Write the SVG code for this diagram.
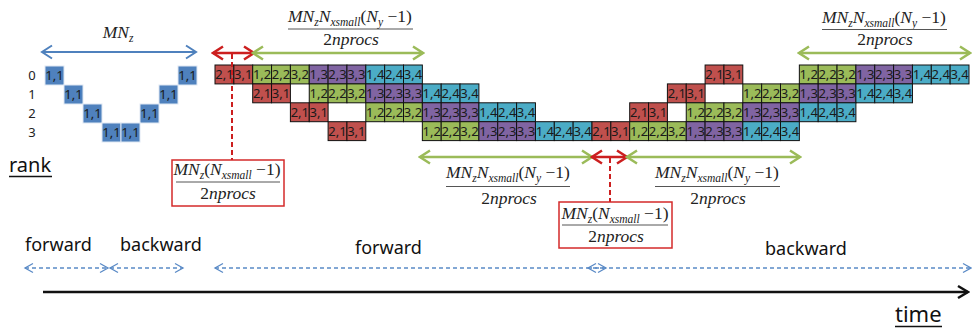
<svg xmlns="http://www.w3.org/2000/svg" width="972" height="330" viewBox="0 0 972 330">
<style>
.R{fill:#c0504d;stroke:#111;stroke-width:1}
.G{fill:#9bbb59;stroke:#111;stroke-width:1}
.P{fill:#8064a2;stroke:#111;stroke-width:1}
.T{fill:#4bacc6;stroke:#111;stroke-width:1}
.B{fill:#4f81bd;stroke:#dfe8f3;stroke-width:1}
.c{font-family:"Noto Sans","Liberation Sans",sans-serif;font-size:13px;text-anchor:middle;fill:#1a1a1a}
.rk{font-family:"Noto Sans","Liberation Sans",sans-serif;font-size:13px;text-anchor:middle;fill:#222}
.m{font-family:"Liberation Serif",serif;font-style:italic;font-size:17.5px;fill:#222;text-anchor:middle}
.s{font-size:11.5px}
.u{font-style:normal}
.bar{stroke:#555;stroke-width:1}
.lbl{font-family:"Noto Sans","Liberation Sans",sans-serif;font-size:18px;fill:#111}
.box{fill:#fff;stroke:#d42a2a;stroke-width:1.5}
.ga{stroke:#9bbb59;stroke-width:2.5;fill:none;marker-start:url(#mg);marker-end:url(#mg)}
.ra{stroke:#cc1f1f;stroke-width:2.5;fill:none;marker-start:url(#mr);marker-end:url(#mr)}
.rd{stroke:#cc1f1f;stroke-width:2;stroke-dasharray:5 3;fill:none}
.da{stroke:#5a8ac6;stroke-width:1.3;stroke-dasharray:4 3;fill:none;marker-start:url(#md);marker-end:url(#md)}
</style>
<defs>
<marker id="mg" markerUnits="userSpaceOnUse" viewBox="0 0 14 16" markerWidth="14" markerHeight="16" refX="12" refY="8" orient="auto-start-reverse"><path d="M2,1.5 L12,8 L2,14.5" fill="none" stroke="#9bbb59" stroke-width="2.5"/></marker>
<marker id="mr" markerUnits="userSpaceOnUse" viewBox="0 0 14 16" markerWidth="14" markerHeight="16" refX="12" refY="8" orient="auto-start-reverse"><path d="M2,1.5 L12,8 L2,14.5" fill="none" stroke="#cc1f1f" stroke-width="2.5"/></marker>
<marker id="mb" markerUnits="userSpaceOnUse" viewBox="0 0 14 16" markerWidth="14" markerHeight="16" refX="12" refY="8" orient="auto-start-reverse"><path d="M2,1.5 L12,8 L2,14.5" fill="none" stroke="#4f81bd" stroke-width="2"/></marker>
<marker id="md" markerUnits="userSpaceOnUse" viewBox="0 0 12 12" markerWidth="12" markerHeight="12" refX="10" refY="6" orient="auto-start-reverse"><path d="M2,1.5 L10,6 L2,10.5" fill="none" stroke="#5a8ac6" stroke-width="1.3"/></marker>
<marker id="mk" markerUnits="userSpaceOnUse" viewBox="0 0 14 16" markerWidth="14" markerHeight="16" refX="12" refY="8" orient="auto"><path d="M2,2 L12,8 L2,14" fill="none" stroke="#111" stroke-width="2.5"/></marker>
</defs>
<rect width="972" height="330" fill="#fff"/>

<!-- left: sequential pattern -->
<g id="mnz-label"><text class="m" x="118" y="38">MN<tspan class="s" dy="4">z</tspan></text></g>
<g id="rank-numbers">
<text class="rk" x="32" y="80">0</text><text class="rk" x="32" y="99">1</text><text class="rk" x="32" y="118">2</text><text class="rk" x="32" y="137">3</text>
</g>
<g id="seq-cells">
<g id="s0a"><rect class="B" x="45" y="66" width="19" height="19"/><text class="c" x="54.5" y="80">1,1</text></g>
<g id="s0b"><rect class="B" x="178" y="66" width="19" height="19"/><text class="c" x="187.5" y="80">1,1</text></g>
<g id="s1a"><rect class="B" x="64" y="85" width="19" height="19"/><text class="c" x="73.5" y="99">1,1</text></g>
<g id="s1b"><rect class="B" x="159" y="85" width="19" height="19"/><text class="c" x="168.5" y="99">1,1</text></g>
<g id="s2a"><rect class="B" x="83" y="104" width="19" height="19"/><text class="c" x="92.5" y="118">1,1</text></g>
<g id="s2b"><rect class="B" x="140" y="104" width="19" height="19"/><text class="c" x="149.5" y="118">1,1</text></g>
<g id="s3a"><rect class="B" x="102" y="123" width="19" height="19"/><text class="c" x="111.5" y="137">1,1</text></g>
<g id="s3b"><rect class="B" x="121" y="123" width="19" height="19"/><text class="c" x="130.5" y="137">1,1</text></g>
</g>
<g id="rank-label"><text class="lbl" x="9" y="172" style="font-size:20px">rank</text><line x1="9" y1="176.5" x2="52" y2="176.5" stroke="#111" stroke-width="1.3"/></g>

<!-- row 0 -->
<g id="row0">
<g><rect class="R" x="215" y="65" width="18.85" height="18.9"/><text class="c" x="224.43" y="79">2,1</text></g>
<g><rect class="R" x="233.85" y="65" width="18.85" height="18.9"/><text class="c" x="243.28" y="79">3,1</text></g>
<g><rect class="G" x="252.7" y="65" width="18.85" height="18.9"/><text class="c" x="262.13" y="79">1,2</text></g>
<g><rect class="G" x="271.55" y="65" width="18.85" height="18.9"/><text class="c" x="280.98" y="79">2,2</text></g>
<g><rect class="G" x="290.4" y="65" width="18.85" height="18.9"/><text class="c" x="299.83" y="79">3,2</text></g>
<g><rect class="P" x="309.25" y="65" width="18.85" height="18.9"/><text class="c" x="318.68" y="79">1,3</text></g>
<g><rect class="P" x="328.1" y="65" width="18.85" height="18.9"/><text class="c" x="337.53" y="79">2,3</text></g>
<g><rect class="P" x="346.95" y="65" width="18.85" height="18.9"/><text class="c" x="356.38" y="79">3,3</text></g>
<g><rect class="T" x="365.8" y="65" width="18.85" height="18.9"/><text class="c" x="375.23" y="79">1,4</text></g>
<g><rect class="T" x="384.65" y="65" width="18.85" height="18.9"/><text class="c" x="394.08" y="79">2,4</text></g>
<g><rect class="T" x="403.5" y="65" width="18.85" height="18.9"/><text class="c" x="412.93" y="79">3,4</text></g>
<g><rect class="R" x="705.1" y="65" width="18.85" height="18.9"/><text class="c" x="714.53" y="79">2,1</text></g>
<g><rect class="R" x="723.95" y="65" width="18.85" height="18.9"/><text class="c" x="733.38" y="79">3,1</text></g>
<g><rect class="G" x="799.35" y="65" width="18.85" height="18.9"/><text class="c" x="808.78" y="79">1,2</text></g>
<g><rect class="G" x="818.2" y="65" width="18.85" height="18.9"/><text class="c" x="827.63" y="79">2,2</text></g>
<g><rect class="G" x="837.05" y="65" width="18.85" height="18.9"/><text class="c" x="846.48" y="79">3,2</text></g>
<g><rect class="P" x="855.9" y="65" width="18.85" height="18.9"/><text class="c" x="865.33" y="79">1,3</text></g>
<g><rect class="P" x="874.75" y="65" width="18.85" height="18.9"/><text class="c" x="884.18" y="79">2,3</text></g>
<g><rect class="P" x="893.6" y="65" width="18.85" height="18.9"/><text class="c" x="903.03" y="79">3,3</text></g>
<g><rect class="T" x="912.45" y="65" width="18.85" height="18.9"/><text class="c" x="921.88" y="79">1,4</text></g>
<g><rect class="T" x="931.3" y="65" width="18.85" height="18.9"/><text class="c" x="940.73" y="79">2,4</text></g>
<g><rect class="T" x="950.15" y="65" width="18.85" height="18.9"/><text class="c" x="959.58" y="79">3,4</text></g>
</g>

<!-- row 1 -->
<g id="row1">
<g><rect class="R" x="252.7" y="83.9" width="18.85" height="18.9"/><text class="c" x="262.13" y="97.9">2,1</text></g>
<g><rect class="R" x="271.55" y="83.9" width="18.85" height="18.9"/><text class="c" x="280.98" y="97.9">3,1</text></g>
<g><rect class="G" x="309.25" y="83.9" width="18.85" height="18.9"/><text class="c" x="318.68" y="97.9">1,2</text></g>
<g><rect class="G" x="328.1" y="83.9" width="18.85" height="18.9"/><text class="c" x="337.53" y="97.9">2,2</text></g>
<g><rect class="G" x="346.95" y="83.9" width="18.85" height="18.9"/><text class="c" x="356.38" y="97.9">3,2</text></g>
<g><rect class="P" x="365.8" y="83.9" width="18.85" height="18.9"/><text class="c" x="375.23" y="97.9">1,3</text></g>
<g><rect class="P" x="384.65" y="83.9" width="18.85" height="18.9"/><text class="c" x="394.08" y="97.9">2,3</text></g>
<g><rect class="P" x="403.5" y="83.9" width="18.85" height="18.9"/><text class="c" x="412.93" y="97.9">3,3</text></g>
<g><rect class="T" x="422.35" y="83.9" width="18.85" height="18.9"/><text class="c" x="431.78" y="97.9">1,4</text></g>
<g><rect class="T" x="441.2" y="83.9" width="18.85" height="18.9"/><text class="c" x="450.63" y="97.9">2,4</text></g>
<g><rect class="T" x="460.05" y="83.9" width="18.85" height="18.9"/><text class="c" x="469.48" y="97.9">3,4</text></g>
<g><rect class="R" x="667.4" y="83.9" width="18.85" height="18.9"/><text class="c" x="676.83" y="97.9">2,1</text></g>
<g><rect class="R" x="686.25" y="83.9" width="18.85" height="18.9"/><text class="c" x="695.68" y="97.9">3,1</text></g>
<g><rect class="G" x="742.8" y="83.9" width="18.85" height="18.9"/><text class="c" x="752.23" y="97.9">1,2</text></g>
<g><rect class="G" x="761.65" y="83.9" width="18.85" height="18.9"/><text class="c" x="771.08" y="97.9">2,2</text></g>
<g><rect class="G" x="780.5" y="83.9" width="18.85" height="18.9"/><text class="c" x="789.93" y="97.9">3,2</text></g>
<g><rect class="P" x="799.35" y="83.9" width="18.85" height="18.9"/><text class="c" x="808.78" y="97.9">1,3</text></g>
<g><rect class="P" x="818.2" y="83.9" width="18.85" height="18.9"/><text class="c" x="827.63" y="97.9">2,3</text></g>
<g><rect class="P" x="837.05" y="83.9" width="18.85" height="18.9"/><text class="c" x="846.48" y="97.9">3,3</text></g>
<g><rect class="T" x="855.9" y="83.9" width="18.85" height="18.9"/><text class="c" x="865.33" y="97.9">1,4</text></g>
<g><rect class="T" x="874.75" y="83.9" width="18.85" height="18.9"/><text class="c" x="884.18" y="97.9">2,4</text></g>
<g><rect class="T" x="893.6" y="83.9" width="18.85" height="18.9"/><text class="c" x="903.03" y="97.9">3,4</text></g>
</g>

<!-- row 2 -->
<g id="row2">
<g><rect class="R" x="290.4" y="102.8" width="18.85" height="18.9"/><text class="c" x="299.83" y="116.8">2,1</text></g>
<g><rect class="R" x="309.25" y="102.8" width="18.85" height="18.9"/><text class="c" x="318.68" y="116.8">3,1</text></g>
<g><rect class="G" x="365.8" y="102.8" width="18.85" height="18.9"/><text class="c" x="375.23" y="116.8">1,2</text></g>
<g><rect class="G" x="384.65" y="102.8" width="18.85" height="18.9"/><text class="c" x="394.08" y="116.8">2,2</text></g>
<g><rect class="G" x="403.5" y="102.8" width="18.85" height="18.9"/><text class="c" x="412.93" y="116.8">3,2</text></g>
<g><rect class="P" x="422.35" y="102.8" width="18.85" height="18.9"/><text class="c" x="431.78" y="116.8">1,3</text></g>
<g><rect class="P" x="441.2" y="102.8" width="18.85" height="18.9"/><text class="c" x="450.63" y="116.8">2,3</text></g>
<g><rect class="P" x="460.05" y="102.8" width="18.85" height="18.9"/><text class="c" x="469.48" y="116.8">3,3</text></g>
<g><rect class="T" x="478.9" y="102.8" width="18.85" height="18.9"/><text class="c" x="488.33" y="116.8">1,4</text></g>
<g><rect class="T" x="497.75" y="102.8" width="18.85" height="18.9"/><text class="c" x="507.18" y="116.8">2,4</text></g>
<g><rect class="T" x="516.6" y="102.8" width="18.85" height="18.9"/><text class="c" x="526.03" y="116.8">3,4</text></g>
<g><rect class="R" x="629.7" y="102.8" width="18.85" height="18.9"/><text class="c" x="639.13" y="116.8">2,1</text></g>
<g><rect class="R" x="648.55" y="102.8" width="18.85" height="18.9"/><text class="c" x="657.98" y="116.8">3,1</text></g>
<g><rect class="G" x="686.25" y="102.8" width="18.85" height="18.9"/><text class="c" x="695.68" y="116.8">1,2</text></g>
<g><rect class="G" x="705.1" y="102.8" width="18.85" height="18.9"/><text class="c" x="714.53" y="116.8">2,2</text></g>
<g><rect class="G" x="723.95" y="102.8" width="18.85" height="18.9"/><text class="c" x="733.38" y="116.8">3,2</text></g>
<g><rect class="P" x="742.8" y="102.8" width="18.85" height="18.9"/><text class="c" x="752.23" y="116.8">1,3</text></g>
<g><rect class="P" x="761.65" y="102.8" width="18.85" height="18.9"/><text class="c" x="771.08" y="116.8">2,3</text></g>
<g><rect class="P" x="780.5" y="102.8" width="18.85" height="18.9"/><text class="c" x="789.93" y="116.8">3,3</text></g>
<g><rect class="T" x="799.35" y="102.8" width="18.85" height="18.9"/><text class="c" x="808.78" y="116.8">1,4</text></g>
<g><rect class="T" x="818.2" y="102.8" width="18.85" height="18.9"/><text class="c" x="827.63" y="116.8">2,4</text></g>
<g><rect class="T" x="837.05" y="102.8" width="18.85" height="18.9"/><text class="c" x="846.48" y="116.8">3,4</text></g>
</g>

<!-- row 3 -->
<g id="row3">
<g><rect class="R" x="328.1" y="121.7" width="18.85" height="18.9"/><text class="c" x="337.53" y="135.7">2,1</text></g>
<g><rect class="R" x="346.95" y="121.7" width="18.85" height="18.9"/><text class="c" x="356.38" y="135.7">3,1</text></g>
<g><rect class="G" x="422.35" y="121.7" width="18.85" height="18.9"/><text class="c" x="431.78" y="135.7">1,2</text></g>
<g><rect class="G" x="441.2" y="121.7" width="18.85" height="18.9"/><text class="c" x="450.63" y="135.7">2,2</text></g>
<g><rect class="G" x="460.05" y="121.7" width="18.85" height="18.9"/><text class="c" x="469.48" y="135.7">3,2</text></g>
<g><rect class="P" x="478.9" y="121.7" width="18.85" height="18.9"/><text class="c" x="488.33" y="135.7">1,3</text></g>
<g><rect class="P" x="497.75" y="121.7" width="18.85" height="18.9"/><text class="c" x="507.18" y="135.7">2,3</text></g>
<g><rect class="P" x="516.6" y="121.7" width="18.85" height="18.9"/><text class="c" x="526.03" y="135.7">3,3</text></g>
<g><rect class="T" x="535.45" y="121.7" width="18.85" height="18.9"/><text class="c" x="544.88" y="135.7">1,4</text></g>
<g><rect class="T" x="554.3" y="121.7" width="18.85" height="18.9"/><text class="c" x="563.73" y="135.7">2,4</text></g>
<g><rect class="T" x="573.15" y="121.7" width="18.85" height="18.9"/><text class="c" x="582.58" y="135.7">3,4</text></g>
<g><rect class="R" x="592" y="121.7" width="18.85" height="18.9"/><text class="c" x="601.43" y="135.7">2,1</text></g>
<g><rect class="R" x="610.85" y="121.7" width="18.85" height="18.9"/><text class="c" x="620.28" y="135.7">3,1</text></g>
<g><rect class="G" x="629.7" y="121.7" width="18.85" height="18.9"/><text class="c" x="639.13" y="135.7">1,2</text></g>
<g><rect class="G" x="648.55" y="121.7" width="18.85" height="18.9"/><text class="c" x="657.98" y="135.7">2,2</text></g>
<g><rect class="G" x="667.4" y="121.7" width="18.85" height="18.9"/><text class="c" x="676.83" y="135.7">3,2</text></g>
<g><rect class="P" x="686.25" y="121.7" width="18.85" height="18.9"/><text class="c" x="695.68" y="135.7">1,3</text></g>
<g><rect class="P" x="705.1" y="121.7" width="18.85" height="18.9"/><text class="c" x="714.53" y="135.7">2,3</text></g>
<g><rect class="P" x="723.95" y="121.7" width="18.85" height="18.9"/><text class="c" x="733.38" y="135.7">3,3</text></g>
<g><rect class="T" x="742.8" y="121.7" width="18.85" height="18.9"/><text class="c" x="752.23" y="135.7">1,4</text></g>
<g><rect class="T" x="761.65" y="121.7" width="18.85" height="18.9"/><text class="c" x="771.08" y="135.7">2,4</text></g>
<g><rect class="T" x="780.5" y="121.7" width="18.85" height="18.9"/><text class="c" x="789.93" y="135.7">3,4</text></g>
</g>

<!-- connectors -->
<g id="connectors">
<line x1="42" y1="52" x2="196" y2="52" stroke="#4f81bd" stroke-width="2" marker-start="url(#mb)" marker-end="url(#mb)"/>
<line class="ra" x1="213" y1="53" x2="254" y2="53"/>
<line class="ga" x1="253" y1="53" x2="423" y2="53"/>
<line class="ga" x1="799" y1="53" x2="970" y2="53"/>
<line class="ga" x1="420" y1="157" x2="592" y2="157"/>
<line class="ra" x1="592" y1="157" x2="627" y2="157"/>
<line class="ga" x1="627" y1="157" x2="800" y2="157"/>
<line class="rd" x1="232" y1="54" x2="232" y2="160"/>
<line class="rd" x1="610" y1="158" x2="610" y2="204"/>
<line class="da" x1="25" y1="268" x2="108" y2="268"/>
<line class="da" x1="110" y1="268" x2="183" y2="268"/>
<line class="da" x1="215" y1="268" x2="606" y2="268"/>
<line class="da" x1="588" y1="268" x2="971" y2="268"/>
<line x1="43" y1="292" x2="968" y2="292" stroke="#111" stroke-width="2.5" marker-end="url(#mk)"/>
</g>

<!-- formulas -->
<g id="f-top-left">
<text class="m" x="350" y="22">MN<tspan class="s" dy="4">z</tspan><tspan dy="-4">N</tspan><tspan class="s" dy="4">xsmall</tspan><tspan class="u" dy="-4">(</tspan>N<tspan class="s" dy="4">y</tspan><tspan class="u" dy="-4"> −1)</tspan></text>
<line class="bar" x1="288" y1="29" x2="413" y2="29"/>
<text class="m" x="351" y="45"><tspan class="u">2</tspan>nprocs</text>
</g>
<g id="f-top-right">
<text class="m" x="884" y="23">MN<tspan class="s" dy="4">z</tspan><tspan dy="-4">N</tspan><tspan class="s" dy="4">xsmall</tspan><tspan class="u" dy="-4">(</tspan>N<tspan class="s" dy="4">y</tspan><tspan class="u" dy="-4"> −1)</tspan></text>
<line class="bar" x1="822" y1="29.5" x2="947" y2="29.5"/>
<text class="m" x="885" y="45"><tspan class="u">2</tspan>nprocs</text>
</g>
<g id="f-low-left">
<text class="m" x="508" y="178">MN<tspan class="s" dy="4">z</tspan><tspan dy="-4">N</tspan><tspan class="s" dy="4">xsmall</tspan><tspan class="u" dy="-4">(</tspan>N<tspan class="s" dy="4">y</tspan><tspan class="u" dy="-4"> −1)</tspan></text>
<line class="bar" x1="446" y1="186.5" x2="570" y2="186.5"/>
<text class="m" x="509" y="204"><tspan class="u">2</tspan>nprocs</text>
</g>
<g id="f-low-right">
<text class="m" x="717" y="178">MN<tspan class="s" dy="4">z</tspan><tspan dy="-4">N</tspan><tspan class="s" dy="4">xsmall</tspan><tspan class="u" dy="-4">(</tspan>N<tspan class="s" dy="4">y</tspan><tspan class="u" dy="-4"> −1)</tspan></text>
<line class="bar" x1="655" y1="186.5" x2="780" y2="186.5"/>
<text class="m" x="718" y="204"><tspan class="u">2</tspan>nprocs</text>
</g>
<g id="box-left">
<rect class="box" x="172" y="160" width="112" height="46"/>
<text class="m" x="227" y="175">MN<tspan class="s" dy="4">z</tspan><tspan class="u" dy="-4">(</tspan>N<tspan class="s" dy="4">xsmall</tspan><tspan class="u" dy="-4"> −1)</tspan></text>
<line class="bar" x1="176" y1="182" x2="280" y2="182"/>
<text class="m" x="228" y="199"><tspan class="u">2</tspan>nprocs</text>
</g>
<g id="box-right">
<rect class="box" x="559" y="202" width="113" height="46"/>
<text class="m" x="615" y="219">MN<tspan class="s" dy="4">z</tspan><tspan class="u" dy="-4">(</tspan>N<tspan class="s" dy="4">xsmall</tspan><tspan class="u" dy="-4"> −1)</tspan></text>
<line class="bar" x1="562" y1="225" x2="668" y2="225"/>
<text class="m" x="616" y="242"><tspan class="u">2</tspan>nprocs</text>
</g>

<!-- phase labels -->
<g id="labels">
<text class="lbl" x="25" y="251">forward</text>
<text class="lbl" x="120" y="251">backward</text>
<text class="lbl" x="355" y="254">forward</text>
<text class="lbl" x="765" y="255">backward</text>
</g>
<g id="time-label"><text class="lbl" x="895" y="322" style="font-size:22px">time</text><line x1="895" y1="326.5" x2="942" y2="326.5" stroke="#111" stroke-width="1.3"/></g>
</svg>
